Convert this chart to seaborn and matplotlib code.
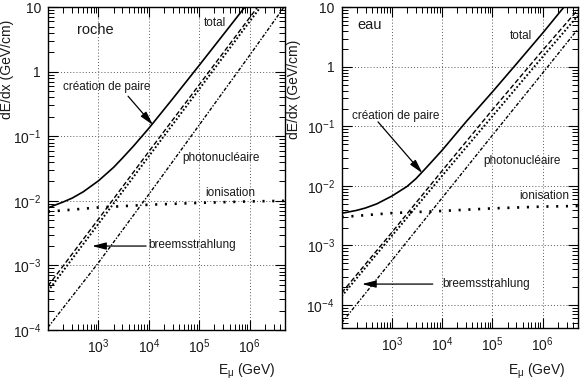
import numpy as np
import pandas as pd
import matplotlib
matplotlib.use("Agg")
import matplotlib.pyplot as plt
import seaborn as sns
from matplotlib.ticker import LogLocator, NullFormatter

# ---------------- data ----------------
E_comp = [1e2, 1e3, 1e4, 1e5, 1e6, 5e6]            # GeV, straight components
E_tot = [1e2, 2e2, 3e2, 5e2, 1e3, 2e3, 3e3, 5e3, 1e4, 3e4, 1e5, 3e5, 1e6, 3e6, 5e6]

# roche (rock), dE/dx in GeV/cm
roche_pair = [4.8e-4, 5.2e-3, 5.8e-2, 0.63, 6.9, 37.0]
roche_brems = [4.0e-4, 4.4e-3, 4.9e-2, 0.54, 6.0, 32.0]
roche_photo = [1.1e-4, 1.1e-3, 1.26e-2, 0.15, 1.8, 10.5]
roche_ion = [6.8e-3, 7.9e-3, 8.7e-3, 9.3e-3, 9.8e-3, 1.0e-2]
roche_total = [7.8e-3, 9.6e-3, 1.1e-2, 1.38e-2, 2.04e-2, 3.3e-2, 4.6e-2, 7.1e-2,
               0.133, 0.385, 1.26, 3.76, 12.5, 37.5, 62.0]

# eau (water)
eau_pair = [1.6e-4, 1.66e-3, 1.8e-2, 0.19, 1.9, 9.1]
eau_brems = [1.4e-4, 1.45e-3, 1.48e-2, 0.148, 1.48, 7.2]
eau_photo = [5.0e-5, 5.6e-4, 6.3e-3, 7.1e-2, 0.79, 4.3]
eau_ion = [3.0e-3, 3.5e-3, 3.8e-3, 4.2e-3, 4.5e-3, 4.6e-3]
eau_total = [3.47e-3, 3.89e-3, 4.27e-3, 5.0e-3, 6.76e-3, 9.8e-3, 1.32e-2, 2.09e-2,
             3.98e-2, 0.12, 0.38, 1.12, 3.7, 11.5, 19.0]

x_ticks = [1e3, 1e4, 1e5, 1e6]
x_ticklabels = ["$10^{3}$", "$10^{4}$", "$10^{5}$", "$10^{6}$"]
y_ticks = [1e-4, 1e-3, 1e-2, 1e-1, 1, 10]
y_ticklabels = ["$10^{-4}$", "$10^{-3}$", "$10^{-2}$", "$10^{-1}$", "1", "10"]

ylabel = "dE/dx (GeV/cm)"
xlabel = r"E$_{\mathrm{\mu}}$ (GeV)"

# ---------------- style ----------------
sns.set_theme(style="ticks")
plt.rcParams["font.family"] = ["Liberation Sans", "DejaVu Sans"]
plt.rcParams["mathtext.fontset"] = "custom"
plt.rcParams["mathtext.rm"] = "Liberation Sans"
plt.rcParams["mathtext.it"] = "Liberation Sans:italic"
plt.rcParams["mathtext.default"] = "regular"

fig = plt.figure(figsize=(5.83, 3.83), dpi=100)

panels = [
    dict(rect=[0.0823, 0.1384, 0.4065, 0.843], ylim=(1e-4, 10), name="roche",
         pair=roche_pair, brems=roche_brems, photo=roche_photo, ion=roche_ion,
         total=roche_total,
         name_pos=(0.198, 0.929), total_pos=(0.705, 0.950),
         paire_pos=(0.247, 0.752), paire_arrow=((0.338, 0.724), (0.443, 0.635)),
         photo_pos=(0.730, 0.533), ion_pos=(0.768, 0.424),
         brems_pos=(0.608, 0.263), brems_arrow=((0.414, 0.260), (0.186, 0.260)),
         ylab=(-0.142, 0.960), xlab=(0.958, -0.099)),
    dict(rect=[0.586, 0.1436, 0.405, 0.837], ylim=(4.1e-5, 10), name="eau",
         pair=eau_pair, brems=eau_brems, photo=eau_photo, ion=eau_ion,
         total=eau_total,
         name_pos=(0.120, 0.9455), total_pos=(0.759, 0.910),
         paire_pos=(0.230, 0.661), paire_arrow=((0.154, 0.643), (0.342, 0.483)),
         photo_pos=(0.763, 0.521), ion_pos=(0.860, 0.412),
         brems_pos=(0.611, 0.137), brems_arrow=((0.386, 0.137), (0.086, 0.137)),
         ylab=(-0.172, 0.898), xlab=(0.949, -0.106)),
]

txt_color = "#1a1a1a"
for p in panels:
    ax = fig.add_axes(p["rect"])
    ax.set_xscale("log")
    ax.set_yscale("log")
    ax.set_xlim(1e2, 5e6)
    ax.set_ylim(*p["ylim"])
    ax.set_axisbelow(True)
    ax.grid(True, which="major", ls=(0, (1, 2.2)), color="0.35", lw=0.7)

    sns.lineplot(x=E_tot, y=p["total"], ax=ax, color="black", lw=1.2,
                 estimator=None)
    sns.lineplot(x=E_comp, y=p["pair"], ax=ax, color="black", lw=1.0,
                 linestyle=(0, (3.5, 1.8)), estimator=None)
    sns.lineplot(x=E_comp, y=p["brems"], ax=ax, color="black", lw=1.4,
                 linestyle=(0, (0.9, 1.1)), estimator=None)
    sns.lineplot(x=E_comp, y=p["photo"], ax=ax, color="black", lw=1.0,
                 linestyle=(0, (2.5, 1.2, 1.0, 1.2)), estimator=None)
    sns.lineplot(x=E_comp, y=p["ion"], ax=ax, color="black", lw=1.9,
                 linestyle=(0, (0.8, 2.9)), estimator=None)

    ax.set_xticks(x_ticks, x_ticklabels)
    ax.set_yticks(y_ticks, y_ticklabels)
    ax.xaxis.set_minor_locator(LogLocator(base=10, subs=np.arange(2, 10), numticks=20))
    ax.yaxis.set_minor_locator(LogLocator(base=10, subs=np.arange(2, 10), numticks=20))
    ax.xaxis.set_minor_formatter(NullFormatter())
    ax.yaxis.set_minor_formatter(NullFormatter())
    ax.tick_params(which="both", direction="in", top=True, right=True,
                   colors="black", labelcolor=txt_color, labelsize=10, pad=5)
    ax.tick_params(which="major", length=7, width=0.8)
    ax.tick_params(which="minor", length=4.5, width=0.7)
    for s in ax.spines.values():
        s.set_color("black")
        s.set_linewidth(1.0)

    ax.set_ylabel(ylabel, fontsize=10, color=txt_color, loc="top")
    ax.yaxis.set_label_coords(*p["ylab"])
    ax.set_xlabel(xlabel, fontsize=10, color=txt_color, loc="right")
    ax.xaxis.set_label_coords(*p["xlab"])

    tr = ax.transAxes
    ax.text(*p["name_pos"], p["name"], transform=tr, fontsize=10.5,
            ha="center", va="center", color=txt_color)
    ax.text(*p["total_pos"], "total", transform=tr, fontsize=8.5,
            ha="center", va="center", color=txt_color)
    ax.text(*p["paire_pos"], "création de paire", transform=tr, fontsize=8.5,
            ha="center", va="center", color=txt_color)
    ax.text(*p["photo_pos"], "photonucléaire", transform=tr, fontsize=8.5,
            ha="center", va="center", color=txt_color)
    ax.text(*p["ion_pos"], "ionisation", transform=tr, fontsize=8.5,
            ha="center", va="center", color=txt_color)
    ax.text(*p["brems_pos"], "breemsstrahlung", transform=tr, fontsize=8.5,
            ha="center", va="center", color=txt_color)
    for (start, tip) in (p["paire_arrow"], p["brems_arrow"]):
        ax.annotate("", xy=tip, xytext=start, xycoords="axes fraction",
                    textcoords="axes fraction",
                    arrowprops=dict(arrowstyle="-|>,head_length=0.7,head_width=0.18",
                                    color="black", lw=0.9, shrinkA=0, shrinkB=0))

fig.savefig("out.png", dpi=100)
